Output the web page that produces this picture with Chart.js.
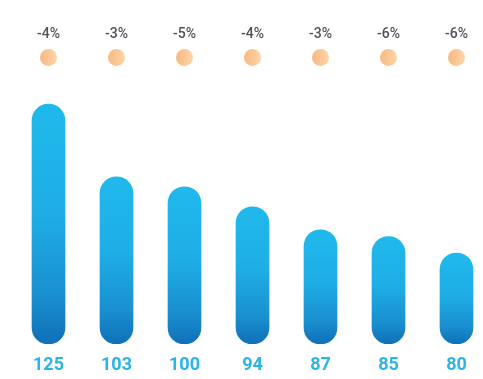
<!DOCTYPE html>
<html>
<head>
<meta charset="utf-8">
<script src="https://cdn.jsdelivr.net/npm/chart.js@4/dist/chart.umd.min.js"></script>
<style>
  html, body { margin: 0; padding: 0; background: #ffffff; }
  #wrap { width: 483px; height: 379px; position: relative; }
</style>
</head>
<body>
<div id="wrap"><canvas id="c"></canvas></div>
<script>
// ---- data ----
const values = [125, 103, 100, 94, 87, 85, 80];
const changes = ['-4%', '-3%', '-5%', '-4%', '-3%', '-6%', '-6%'];

const Y_MIN = 52.5;
const Y_MAX = 132.3;

const points = values.map((v, i) => ({ x: i, y: v }));

function barGradient(c) {
  const chart = c.chart;
  if (!chart.chartArea || !c.raw) return '#1fb5e9';
  const ys = chart.scales.y;
  const top = ys.getPixelForValue(c.raw.y);
  const bottom = ys.getPixelForValue(ys.min);
  const g = chart.ctx.createLinearGradient(0, top, 0, bottom);
  g.addColorStop(0, '#20b9ec');
  g.addColorStop(0.45, '#1eaee5');
  g.addColorStop(0.8, '#1a8fd0');
  g.addColorStop(1, '#0f70b8');
  return g;
}

const labelsPlugin = {
  id: 'labelsPlugin',
  afterDatasetsDraw(chart) {
    const ctx = chart.ctx;
    const xs = chart.scales.x;
    const area = chart.chartArea;
    ctx.save();
    ctx.textAlign = 'center';
    ctx.textBaseline = 'middle';
    values.forEach((v, i) => {
      const px = xs.getPixelForValue(i);
      // value label under bar
      ctx.fillStyle = '#2ab4e8';
      ctx.font = 'bold 18px Roboto, "Noto Sans", sans-serif';
      ctx.fillText(String(v), px, area.bottom + 21.5);
      // percent label
      ctx.fillStyle = '#4d5259';
      ctx.font = '500 14px Roboto, "Noto Sans", sans-serif';
      ctx.fillText(changes[i], px, area.top - 45.5);
      // orange dot
      const cy = area.top - 22.5;
      const g = ctx.createLinearGradient(px - 8.5, 0, px + 8.5, 0);
      g.addColorStop(0, '#f8b982');
      g.addColorStop(1, '#fdd4a6');
      ctx.fillStyle = g;
      ctx.beginPath();
      ctx.arc(px, cy, 8.5, 0, Math.PI * 2);
      ctx.fill();
    });
    ctx.restore();
  }
};

new Chart(document.getElementById('c'), {
  type: 'bar',
  data: {
    datasets: [{
      data: points,
      base: Y_MIN,
      backgroundColor: barGradient,
      borderWidth: 0,
      borderRadius: 17,
      borderSkipped: false,
      barThickness: 33
    }]
  },
  options: {
    responsive: true,
    maintainAspectRatio: false,
    animation: false,
    layout: { padding: { top: 80, bottom: 35, left: 0, right: 0 } },
    plugins: { legend: { display: false }, tooltip: { enabled: false } },
    scales: {
      x: {
        type: 'linear',
        offset: false,
        min: -0.7132,
        max: 6.3897,
        display: false,
        grid: { display: false }
      },
      y: {
        min: Y_MIN,
        max: Y_MAX,
        display: false,
        grid: { display: false }
      }
    }
  },
  plugins: [labelsPlugin]
});
</script>
</body>
</html>
